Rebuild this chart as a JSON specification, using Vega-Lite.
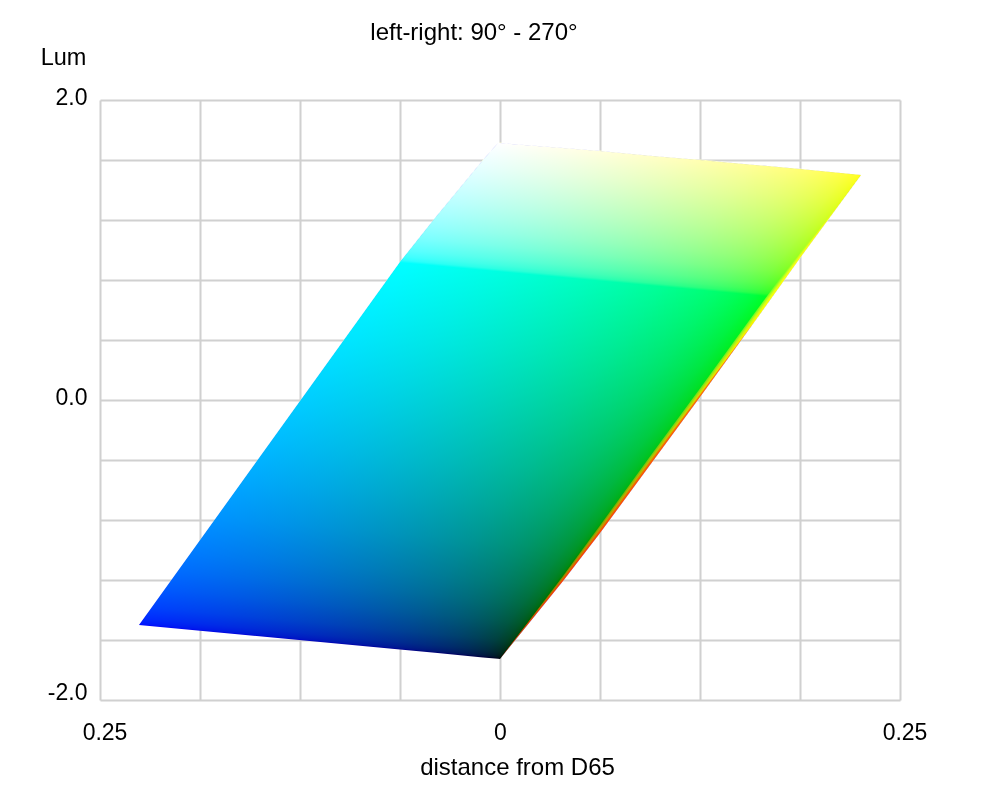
{"$schema":"https://vega.github.io/schema/vega-lite/v6.json","width":800,"height":600,"autosize":"none","padding":{"left":100,"top":100,"right":100,"bottom":100},"background":"white","config":{"view":{"stroke":null},"font":"Liberation Sans"},"title":{"text":"left-right: 90° - 270°","font":"Liberation Sans","fontWeight":"normal","fontSize":24,"color":"#000000","anchor":"middle","dx":-26,"offset":-12,"baseline":"middle"},"datasets":{"shape":[{"d":-0.225625,"top":-1.5,"bot":-1.5},{"d":-0.0625,"top":0.92,"bot":-1.664},{"d":-0.040625,"top":1.2133,"bot":-1.685},{"d":-0.010625,"top":1.6,"bot":-1.716},{"d":-0.00125,"top":1.7133,"bot":-1.725},{"d":0,"top":1.7133,"bot":-1.7267},{"d":0.039375,"top":1.68,"bot":-1.2067},{"d":0.0625,"top":1.66,"bot":-0.8867},{"d":0.09375,"top":1.6287,"bot":-0.4333},{"d":0.125,"top":1.6,"bot":0.02},{"d":0.159375,"top":1.5667,"bot":0.5267},{"d":0.1875,"top":1.54,"bot":0.9467},{"d":0.225625,"top":1.5,"bot":1.5}],"drop":[{"lvl":1,"d":0,"top":-1.7267,"bot":-1.7267},{"lvl":1,"d":0.039375,"top":-1.19,"bot":-1.2067},{"lvl":1,"d":0.0625,"top":-0.8617,"bot":-0.8867},{"lvl":1,"d":0.09375,"top":-0.4049,"bot":-0.4333},{"lvl":1,"d":0.125,"top":0.0389,"bot":0.02},{"lvl":1,"d":0.159375,"top":0.5267,"bot":0.5267},{"lvl":2,"d":0,"top":-1.7267,"bot":-1.7267},{"lvl":2,"d":0.039375,"top":-1.1956,"bot":-1.2067},{"lvl":2,"d":0.0625,"top":-0.87,"bot":-0.8867},{"lvl":2,"d":0.09375,"top":-0.4144,"bot":-0.4333},{"lvl":2,"d":0.125,"top":0.0326,"bot":0.02},{"lvl":2,"d":0.159375,"top":0.5267,"bot":0.5267},{"lvl":3,"d":0,"top":-1.7267,"bot":-1.7267},{"lvl":3,"d":0.039375,"top":-1.2011,"bot":-1.2067},{"lvl":3,"d":0.0625,"top":-0.8784,"bot":-0.8867},{"lvl":3,"d":0.09375,"top":-0.4238,"bot":-0.4333},{"lvl":3,"d":0.125,"top":0.0263,"bot":0.02},{"lvl":3,"d":0.159375,"top":0.5267,"bot":0.5267}],"wedge":[{"r":60,"d":0,"top":-1.7267,"bot":-1.7267},{"r":60,"d":0.039375,"top":-1.1734,"bot":-1.2067},{"r":60,"d":0.0625,"top":-0.8367,"bot":-0.8867},{"r":60,"d":0.09375,"top":-0.3766,"bot":-0.4333},{"r":60,"d":0.125,"top":0.0767,"bot":0.02},{"r":60,"d":0.159375,"top":0.5834,"bot":0.5267},{"r":60,"d":0.1875,"top":0.9934,"bot":0.9467},{"r":60,"d":0.225625,"top":1.5,"bot":1.5},{"r":110,"d":0,"top":-1.7267,"bot":-1.7267},{"r":110,"d":0.039375,"top":-1.1789,"bot":-1.2067},{"r":110,"d":0.0625,"top":-0.845,"bot":-0.8867},{"r":110,"d":0.09375,"top":-0.386,"bot":-0.4333},{"r":110,"d":0.125,"top":0.0673,"bot":0.02},{"r":110,"d":0.159375,"top":0.574,"bot":0.5267},{"r":110,"d":0.1875,"top":0.9856,"bot":0.9467},{"r":110,"d":0.225625,"top":1.5,"bot":1.5},{"r":160,"d":0,"top":-1.7267,"bot":-1.7267},{"r":160,"d":0.039375,"top":-1.1845,"bot":-1.2067},{"r":160,"d":0.0625,"top":-0.8534,"bot":-0.8867},{"r":160,"d":0.09375,"top":-0.3955,"bot":-0.4333},{"r":160,"d":0.125,"top":0.0578,"bot":0.02},{"r":160,"d":0.159375,"top":0.5645,"bot":0.5267},{"r":160,"d":0.1875,"top":0.9778,"bot":0.9467},{"r":160,"d":0.225625,"top":1.5,"bot":1.5},{"r":200,"d":0,"top":-1.7267,"bot":-1.7267},{"r":200,"d":0.039375,"top":-1.19,"bot":-1.2067},{"r":200,"d":0.0625,"top":-0.8617,"bot":-0.8867},{"r":200,"d":0.09375,"top":-0.4049,"bot":-0.4333},{"r":200,"d":0.125,"top":0.0484,"bot":0.02},{"r":200,"d":0.159375,"top":0.5551,"bot":0.5267},{"r":200,"d":0.1875,"top":0.97,"bot":0.9467},{"r":200,"d":0.225625,"top":1.5,"bot":1.5},{"r":235,"d":0,"top":-1.7267,"bot":-1.7267},{"r":235,"d":0.039375,"top":-1.1956,"bot":-1.2067},{"r":235,"d":0.0625,"top":-0.87,"bot":-0.8867},{"r":235,"d":0.09375,"top":-0.4144,"bot":-0.4333},{"r":235,"d":0.125,"top":0.0389,"bot":0.02},{"r":235,"d":0.159375,"top":0.5456,"bot":0.5267},{"r":235,"d":0.1875,"top":0.9623,"bot":0.9467},{"r":235,"d":0.225625,"top":1.5,"bot":1.5},{"r":255,"d":0,"top":-1.7267,"bot":-1.7267},{"r":255,"d":0.039375,"top":-1.2011,"bot":-1.2067},{"r":255,"d":0.0625,"top":-0.8784,"bot":-0.8867},{"r":255,"d":0.09375,"top":-0.4238,"bot":-0.4333},{"r":255,"d":0.125,"top":0.0295,"bot":0.02},{"r":255,"d":0.159375,"top":0.5362,"bot":0.5267},{"r":255,"d":0.1875,"top":0.9545,"bot":0.9467},{"r":255,"d":0.225625,"top":1.5,"bot":1.5}]},"encoding":{"x":{"field":"d","type":"quantitative","scale":{"domain":[-0.25,0.25],"nice":false,"zero":false},"axis":{"values":[-0.25,-0.1875,-0.125,-0.0625,0,0.0625,0.125,0.1875,0.25],"grid":true,"gridColor":"#d0d0d0","gridWidth":2,"domain":false,"ticks":false,"labelExpr":"abs(datum.value)==0.25?'0.25':(datum.value==0?'0':'')","labelFontSize":23,"labelColor":"#000000","labelOverlap":false,"labelBound":false,"labelFlush":false,"labelPadding":32,"labelBaseline":"middle","labelOffset":{"condition":{"test":"abs(datum.value)==0.25","value":4.5},"value":0},"title":"distance from D65","titleFontSize":24,"titleFontWeight":"normal","titleColor":"#000000","titleX":417,"titleY":67,"titleAlign":"center","titleBaseline":"middle"}},"y":{"field":"top","type":"quantitative","scale":{"domain":[-2,2],"nice":false,"zero":false},"axis":{"values":[-2,-1.6,-1.2,-0.8,-0.4,0,0.4,0.8,1.2,1.6,2],"grid":true,"gridColor":"#d0d0d0","gridWidth":2,"domain":false,"ticks":false,"labelExpr":"datum.value==2?'2.0':(datum.value==0?'0.0':(datum.value==-2?'-2.0':''))","labelFontSize":23,"labelColor":"#000000","labelOverlap":false,"labelBound":false,"labelFlush":false,"labelPadding":13,"labelBaseline":"middle","labelOffset":{"condition":{"test":"datum.value==-2","value":-8},"value":-2.5},"title":"Lum","titleFontSize":23.5,"titleFontWeight":"normal","titleColor":"#000000","titleAngle":0,"titleX":-37,"titleY":-43,"titleAlign":"center","titleBaseline":"middle"}},"y2":{"field":"bot"}},"layer":[{"data":{"name":"shape"},"mark":{"type":"area","orient":"vertical","interpolate":"linear","color":{"gradient":"linear","x1":0,"y1":0.934,"x2":0.416,"y2":1.157,"stops":[{"offset":0,"color":"#0000ff"},{"offset":0.1,"color":"#0000f3"},{"offset":0.2,"color":"#0000e7"},{"offset":0.3,"color":"#0000d9"},{"offset":0.4,"color":"#0000ca"},{"offset":0.5,"color":"#0000ba"},{"offset":0.6,"color":"#0000a8"},{"offset":0.7,"color":"#000094"},{"offset":0.8,"color":"#00007b"},{"offset":0.85,"color":"#00006c"},{"offset":0.9,"color":"#000059"},{"offset":0.95,"color":"#000041"},{"offset":0.98,"color":"#00002b"},{"offset":0.99,"color":"#00001f"},{"offset":0.995,"color":"#000017"},{"offset":1,"color":"#000000"}]}}},{"data":{"name":"shape"},"mark":{"type":"area","orient":"vertical","interpolate":"linear","blend":"screen","color":{"gradient":"linear","x1":0.5,"y1":1,"x2":0.6265,"y2":0.0163,"stops":[{"offset":0,"color":"#000000"},{"offset":0.00375,"color":"#001700"},{"offset":0.0075,"color":"#001f00"},{"offset":0.015,"color":"#002b00"},{"offset":0.0375,"color":"#004100"},{"offset":0.075,"color":"#005900"},{"offset":0.1126,"color":"#006c00"},{"offset":0.15,"color":"#007b00"},{"offset":0.225,"color":"#009400"},{"offset":0.3,"color":"#00a800"},{"offset":0.375,"color":"#00ba00"},{"offset":0.45,"color":"#00ca00"},{"offset":0.525,"color":"#00d900"},{"offset":0.6,"color":"#00e700"},{"offset":0.675,"color":"#00f300"},{"offset":0.7505,"color":"#00ff00"},{"offset":0.7555,"color":"#2bff00"},{"offset":0.763,"color":"#41ff00"},{"offset":0.7755,"color":"#59ff00"},{"offset":0.8004,"color":"#7bff00"},{"offset":0.8254,"color":"#94ff00"},{"offset":0.8503,"color":"#a8ff00"},{"offset":0.8753,"color":"#baff00"},{"offset":0.9002,"color":"#caff00"},{"offset":0.9252,"color":"#d9ff00"},{"offset":0.9501,"color":"#e7ff00"},{"offset":0.9751,"color":"#f3ff00"},{"offset":1,"color":"#ffff00"}]},"stroke":{"gradient":"linear","x1":0.5,"y1":1,"x2":0.6265,"y2":0.0163,"stops":[{"offset":0,"color":"#000000"},{"offset":0.0375,"color":"#004100"},{"offset":0.15,"color":"#007b00"},{"offset":0.375,"color":"#00ba00"},{"offset":0.6,"color":"#00e700"},{"offset":0.7505,"color":"#00ff00"},{"offset":0.7755,"color":"#59ff00"},{"offset":0.8753,"color":"#baff00"},{"offset":1,"color":"#ffff00"}]},"strokeWidth":1}},{"data":{"name":"drop"},"mark":{"type":"area","orient":"vertical","interpolate":"linear","blend":"multiply","color":"#ffbfff"},"encoding":{"detail":{"field":"lvl","type":"nominal"}}},{"data":{"name":"wedge"},"mark":{"type":"area","orient":"vertical","interpolate":"linear","blend":"lighten"},"encoding":{"detail":{"field":"r","type":"nominal"},"color":{"field":"r","type":"quantitative","scale":{"domain":[0,255],"range":["#000000","#ff0000"]},"legend":null},"order":{"field":"r","type":"quantitative"}}}]}
